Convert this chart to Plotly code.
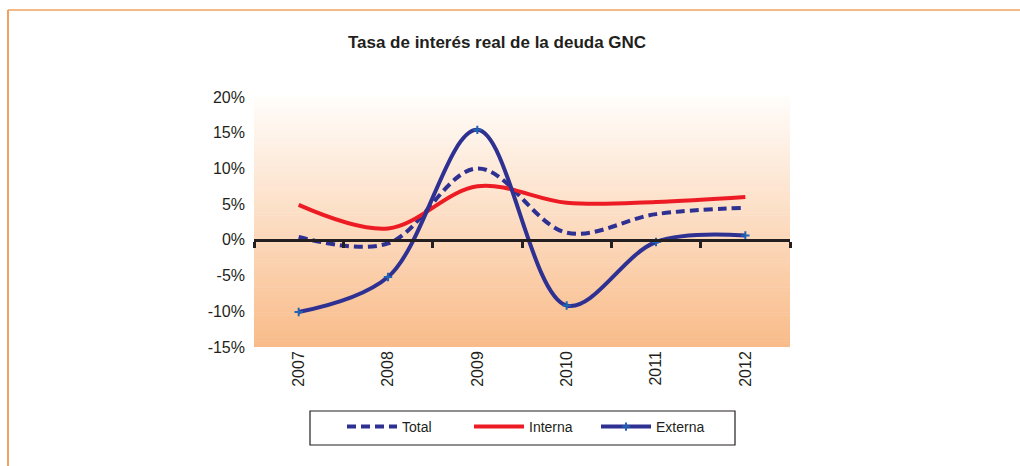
import plotly.graph_objects as go

# ---------------- data ----------------
years = ["2007", "2008", "2009", "2010", "2011", "2012"]
total = [0.4, -0.5, 10.0, 1.0, 3.6, 4.5]
interna = [4.9, 1.6, 7.5, 5.2, 5.3, 6.0]
externa = [-10.1, -5.2, 15.4, -9.2, -0.3, 0.6]
y_ticks = [-15, -10, -5, 0, 5, 10, 15, 20]
y_labels = ["%d%%" % v for v in y_ticks]

# ---------------- layout geometry ----------------
W, H = 1020, 466
L, R, T, B = 254, 1020 - 790, 97, 466 - 347
PW, PH = W - L - R, H - T - B

def px_x(p):  # pixel -> paper x
    return (p - L) / PW

def px_y(p):  # pixel -> paper y
    return (H - B - p) / PH

NAVY = "#2E3192"
RED = "#ED1C24"
INK = "#231F20"
FONT = "Liberation Sans, Arial, sans-serif"

xs = list(range(len(years)))

fig = go.Figure()
fig.add_trace(go.Scatter(
    x=xs, y=total, name="Total", mode="lines",
    line=dict(color=NAVY, width=4, dash="9px,5px", shape="spline", smoothing=1.0),
))
fig.add_trace(go.Scatter(
    x=xs, y=interna, name="Interna", mode="lines",
    line=dict(color=RED, width=4, shape="spline", smoothing=1.0),
))
fig.add_trace(go.Scatter(
    x=xs, y=externa, name="Externa", mode="lines+markers",
    line=dict(color=NAVY, width=4, shape="spline", smoothing=1.0),
    marker=dict(symbol="cross-thin", size=6, color="#1F64B4",
                line=dict(color="#1F64B4", width=2)),
))
# invisible trace for the zero-line category axis
fig.add_trace(go.Scatter(x=[-0.5, 5.5], y=[0, 0], xaxis="x2", mode="lines",
                         line=dict(width=0), showlegend=False, hoverinfo="skip"))

# gradient background bands
shapes = []
N = 80
top_c = (255, 253, 250)
bot_c = (249, 187, 137)
for i in range(N):
    t0, t1 = i / N, (i + 1) / N
    tm = (t0 + t1) / 2
    c = tuple(round(bot_c[k] + (top_c[k] - bot_c[k]) * tm) for k in range(3))
    shapes.append(dict(type="rect", xref="paper", yref="paper",
                       x0=0, x1=1, y0=t0, y1=t1 + 0.002,
                       fillcolor="rgb(%d,%d,%d)" % c, line=dict(width=0),
                       layer="below"))
# page frame (orange)
shapes.append(dict(type="line", xref="paper", yref="paper",
                   x0=px_x(8), x1=px_x(1021), y0=px_y(10), y1=px_y(10),
                   line=dict(color="#F5B985", width=2)))
shapes.append(dict(type="line", xref="paper", yref="paper",
                   x0=px_x(8), x1=px_x(8), y0=px_y(10), y1=px_y(467),
                   line=dict(color="#F0A060", width=2)))
# legend box
shapes.append(dict(type="rect", xref="paper", yref="paper",
                   x0=px_x(310), x1=px_x(735), y0=px_y(411), y1=px_y(445),
                   fillcolor="white", line=dict(color=INK, width=1.2)))

zero_pos = (0 - (-15)) / 35

fig.update_layout(
    width=W, height=H,
    margin=dict(l=L, r=R, t=T, b=B),
    paper_bgcolor="white", plot_bgcolor="rgba(0,0,0,0)",
    shapes=shapes,
    title=dict(text="<b>Tasa de interés real de la deuda GNC</b>",
               x=px_x(497), xref="paper", xanchor="center",
               y=(H - 42) / H, yanchor="middle",
               font=dict(family=FONT, size=17, color=INK)),
    xaxis=dict(range=[-0.5, 5.5], tickvals=xs, ticktext=years, tickangle=-90,
               showline=False, showgrid=False, zeroline=False, ticks="",
               tickfont=dict(family=FONT, size=16, color=INK)),
    xaxis2=dict(range=[-0.5, 5.5], overlaying="x", anchor="free", position=zero_pos,
                tickvals=[i - 0.5 for i in range(len(years) + 1)],
                showticklabels=False, ticks="outside", ticklen=6, tickwidth=2.5,
                tickcolor=INK, showline=True, linecolor=INK,
                linewidth=3, showgrid=False, zeroline=False),
    yaxis=dict(range=[-15, 20], tickvals=y_ticks, ticktext=y_labels,
               showline=False, showgrid=False, zeroline=False, ticks="",
               ticklabelstandoff=8,
               tickfont=dict(family=FONT, size=16, color=INK)),
    legend=dict(orientation="h", x=px_x(342), xanchor="left",
                y=px_y(411), yanchor="top",
                borderwidth=0, bgcolor="rgba(0,0,0,0)",
                itemwidth=50, font=dict(family=FONT, size=14, color=INK),
                entrywidth=62, entrywidthmode="pixels"),
    showlegend=True,
)

fig.write_html("out.html", config={"displayModeBar": False},
               post_script="document.body.style.margin='0';")
